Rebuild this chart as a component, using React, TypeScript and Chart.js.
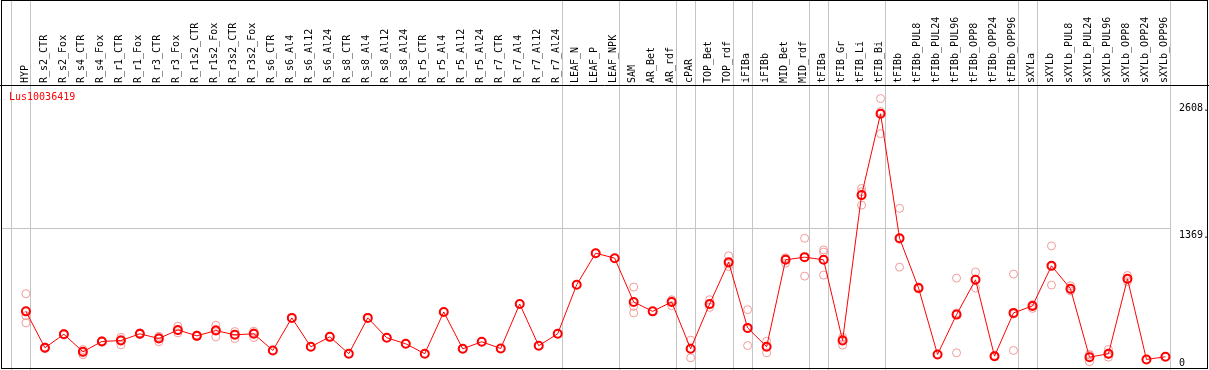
import React, { useEffect, useRef } from "react";
import { Chart, registerables } from "chart.js";

Chart.register(...registerables);

const chartTitle = "Lus10036419";

const categories = [
  "HYP", "R_s2_CTR", "R_s2_Fox", "R_s4_CTR", "R_s4_Fox", "R_r1_CTR", "R_r1_Fox", "R_r3_CTR", "R_r3_Fox",
  "R_r1s2_CTR", "R_r1s2_Fox", "R_r3s2_CTR", "R_r3s2_Fox", "R_s6_CTR", "R_s6_Al4", "R_s6_Al12", "R_s6_Al24",
  "R_s8_CTR", "R_s8_Al4", "R_s8_Al12", "R_s8_Al24", "R_r5_CTR", "R_r5_Al4", "R_r5_Al12", "R_r5_Al24",
  "R_r7_CTR", "R_r7_Al4", "R_r7_Al12", "R_r7_Al24", "LEAF_N", "LEAF_P", "LEAF_NPK", "SAM", "AR_Bet", "AR_rdf",
  "cPAR", "TOP_Bet", "TOP_rdf", "iFIBa", "iFIBb", "MID_Bet", "MID_rdf", "tFIBa", "tFIB_Gr", "tFIB_Li", "tFIB_Bi",
  "tFIBb", "tFIBb_PUL8", "tFIBb_PUL24", "tFIBb_PUL96", "tFIBb_OPP8", "tFIBb_OPP24", "tFIBb_OPP96", "sXYLa",
  "sXYLb", "sXYLb_PUL8", "sXYLb_PUL24", "sXYLb_PUL96", "sXYLb_OPP8", "sXYLb_OPP24", "sXYLb_OPP96",
];

const meanValues = [
  555, 198, 331, 159, 260, 269, 335, 289, 373, 315, 367, 325, 335, 172, 491, 208, 305,
  140, 491, 296, 237, 140, 549, 188, 257, 191, 627, 218, 335, 816, 1125, 1076, 647, 555, 647,
  188, 627, 1037, 393, 208, 1060, 1086, 1060, 269, 1694, 2491,
  1271, 783, 133, 523, 864, 116, 540, 608, 1001, 777, 106, 140, 874, 84, 110,
];

const replicateValues = [
  [728, 513, 442], [205, 190, 200], [338, 325, 330], [181, 150, 130], [268, 255, 258],
  [301, 280, 227], [345, 330, 328], [311, 300, 257], [409, 365, 344], [322, 310, 312],
  [419, 377, 305], [357, 330, 289], [360, 345, 299], [172], [491], [208], [305],
  [140], [491], [296], [237], [140], [549], [188], [257], [191], [627], [218], [335],
  [816], [1125], [1076], [793, 604, 540], [555], [669, 660, 611],
  [272, 190, 100], [669, 620, 594], [1099, 1020, 994], [572, 387, 220], [262, 215, 149],
  [1080, 1075, 1027], [1271, 1086, 900], [1157, 1135, 910], [301, 282, 224],
  [1759, 1727, 1596], [2640, 2513, 2296],
  [1564, 1261, 988], [795, 780, 775], [133], [881, 539, 149], [940, 870, 783],
  [125, 110, 113], [920, 528, 172], [620, 584, 620], [1196, 994, 813], [806, 770, 755],
  [133, 124, 61], [181, 133, 106], [906, 868, 848], [84], [110],
];

const yTickValues = [0, 1369, 2608];
const yTickLabels = ["0", "1369.", "2608."];
const yGridValue = 1369;
// index of the last category of each group (-1 = before the first)
const groupEnds = [-1, 0, 28, 31, 34, 35, 37, 38, 41, 42, 45, 52, 53, 60];

const MONO = "'DejaVu Sans Mono', monospace";

const zeroPadding = (axis: any) => {
  axis.paddingLeft = 0;
  axis.paddingRight = 0;
  axis.paddingTop = 0;
  axis.paddingBottom = 0;
};

const decorPlugin = {
  id: "decor",
  beforeDatasetsDraw(chart: any) {
    const { ctx, scales } = chart;
    const x = scales.x;
    ctx.save();
    ctx.strokeStyle = "#c4c4c4";
    ctx.lineWidth = 1;
    groupEnds.forEach((g) => {
      const px = Math.round(x.getPixelForValue(g + 0.24)) + 0.5;
      ctx.beginPath();
      ctx.moveTo(px, 0);
      ctx.lineTo(px, chart.height);
      ctx.stroke();
    });
    ctx.restore();
  },
  afterDraw(chart: any) {
    const { ctx, chartArea, scales } = chart;
    const y = scales.y;
    ctx.save();
    ctx.strokeStyle = "#000";
    ctx.lineWidth = 1;
    ctx.strokeRect(1.5, 0.5, chart.width - 3, chartArea.bottom);
    ctx.beginPath();
    ctx.moveTo(0, chartArea.top - 0.5);
    ctx.lineTo(chart.width, chartArea.top - 0.5);
    ctx.stroke();
    ctx.fillStyle = "#ff0000";
    ctx.font = `10px ${MONO}`;
    ctx.textBaseline = "top";
    ctx.textAlign = "left";
    ctx.fillText(chartTitle, chartArea.left + 7, chartArea.top + 6);
    ctx.fillStyle = "#000";
    yTickValues.forEach((v, i) => {
      const py = Math.min(y.getPixelForValue(v) + 2, chartArea.bottom - 10);
      ctx.fillText(yTickLabels[i], chartArea.right + 9, py);
    });
    ctx.restore();
  },
};

export default function App() {
  const ref = useRef<HTMLCanvasElement | null>(null);

  useEffect(() => {
    document.body.style.margin = "0";
    if (!ref.current) return;
    const meanData = meanValues.map((v, i) => ({ x: i, y: v }));
    const repData: { x: number; y: number }[] = [];
    replicateValues.forEach((arr, i) => arr.forEach((v) => repData.push({ x: i, y: v })));

    const chart = new Chart(ref.current, {
      type: "line",
      data: {
        datasets: [
          {
            label: "mean",
            data: meanData,
            borderColor: "#ff0000",
            borderWidth: 1,
            pointRadius: 4,
            pointBorderWidth: 2,
            pointBorderColor: "#ff0000",
            pointBackgroundColor: "rgba(0,0,0,0)",
            tension: 0,
            clip: false,
          },
          {
            label: "replicates",
            data: repData,
            showLine: false,
            pointRadius: 4,
            pointBorderWidth: 1,
            pointBorderColor: "#f09a9a",
            pointBackgroundColor: "rgba(0,0,0,0)",
            clip: false,
          },
        ],
      },
      options: {
        animation: false,
        responsive: false,
        layout: { autoPadding: false, padding: { left: 2, right: 0, top: 0, bottom: 2 } },
        plugins: { legend: { display: false }, tooltip: { enabled: false }, title: { display: false } },
        scales: {
          x: {
            type: "linear",
            position: "top",
            min: -1.26,
            max: 60.24,
            grid: { display: false, drawTicks: false },
            border: { display: false },
            afterBuildTicks: (axis: any) => {
              axis.ticks = categories.map((_, i) => ({ value: i }));
            },
            afterFit: (axis: any) => {
              axis.height = 86;
              zeroPadding(axis);
            },
            ticks: {
              autoSkip: false,
              minRotation: 90,
              maxRotation: 90,
              padding: 3,
              labelOffset: 11,
              color: "#000",
              font: { family: MONO, size: 10 },
              callback: (v: any) => categories[v] ?? "",
            },
          },
          y: {
            type: "linear",
            position: "right",
            min: 0,
            max: 2763,
            border: { display: false },
            grid: {
              drawTicks: false,
              color: (c: any) => (c.tick && c.tick.value === yGridValue ? "#c4c4c4" : "rgba(0,0,0,0)"),
            },
            afterBuildTicks: (axis: any) => {
              axis.ticks = yTickValues.map((v) => ({ value: v }));
            },
            afterFit: (axis: any) => {
              axis.width = 39;
              zeroPadding(axis);
            },
            ticks: { display: false },
          },
        },
      },
      plugins: [decorPlugin],
    });
    return () => chart.destroy();
  }, []);

  return (
    <div style={{ width: 1209, height: 370 }}>
      <canvas ref={ref} width={1209} height={370} style={{ display: "block" }} />
    </div>
  );
}
